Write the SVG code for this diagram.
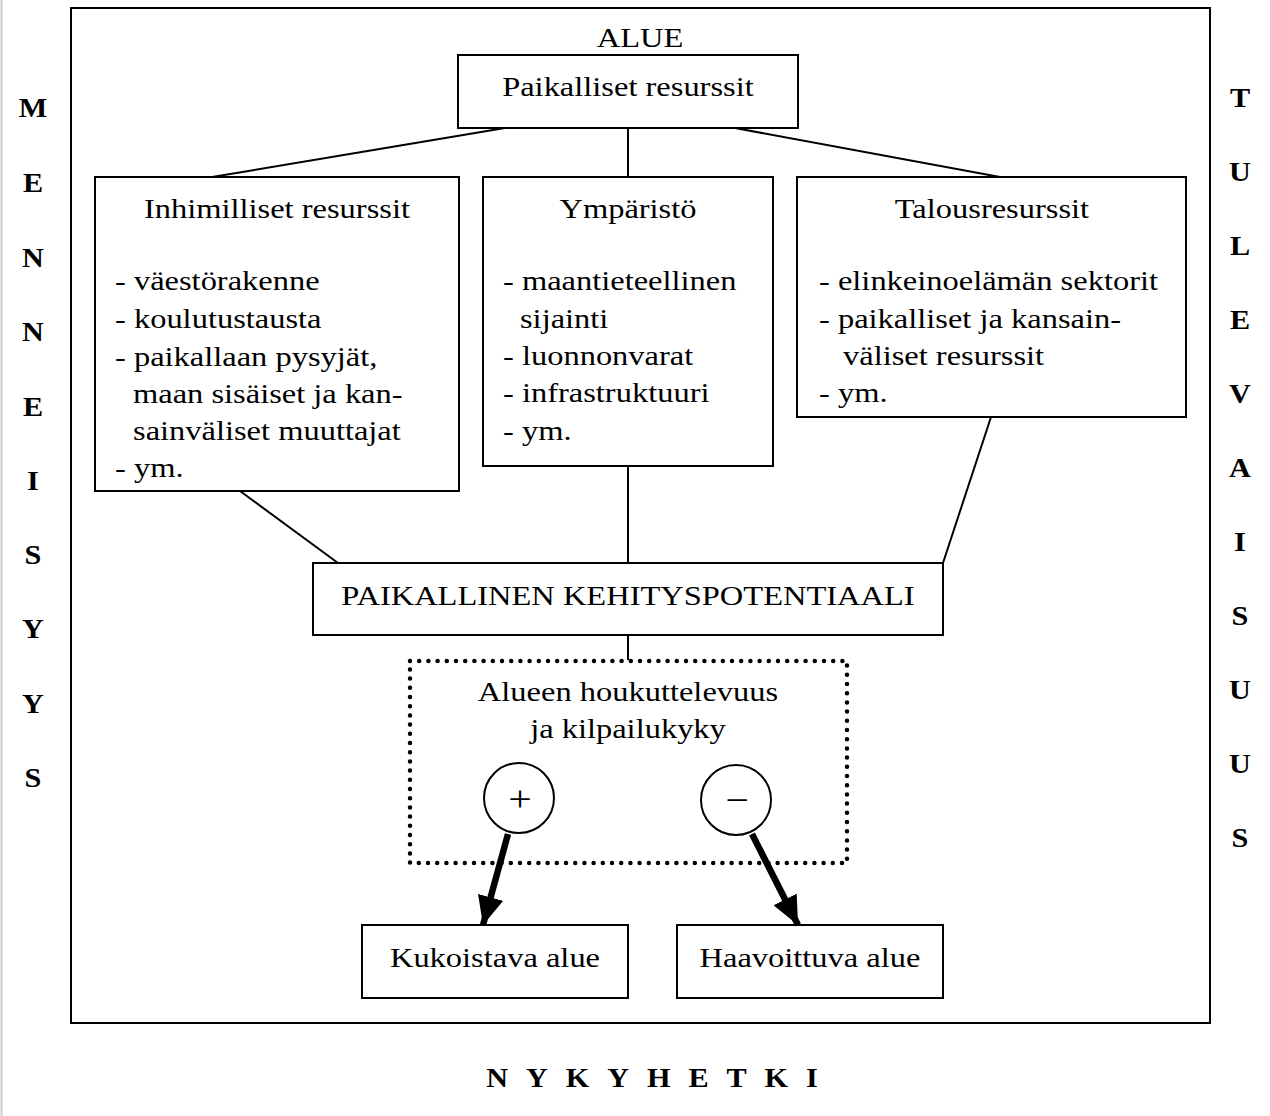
<svg xmlns="http://www.w3.org/2000/svg" width="1270" height="1116" viewBox="0 0 1270 1116">
<style>
.box{fill:#fff;stroke:#000;stroke-width:2}
.t{font-family:"Liberation Serif","Times New Roman",serif;font-size:28px;fill:#000;transform-box:fill-box;transform:scaleX(1.16);transform-origin:0 50%}
.c{text-anchor:middle;transform-origin:50% 50%}
.b{font-family:"Liberation Serif","Times New Roman",serif;font-size:27px;font-weight:bold;fill:#000;text-anchor:middle;transform-box:fill-box;transform:scaleX(1.12);transform-origin:50% 50%}
.ln{stroke:#000;stroke-width:2;fill:none}
.thick{stroke:#000;stroke-width:6.5;fill:none}
</style>
<defs>
<marker id="ah" viewBox="0 0 10 10" refX="10" refY="5" markerWidth="4.4" markerHeight="4" markerUnits="strokeWidth" orient="auto" preserveAspectRatio="none">
<path d="M0,0 L10,5 L0,10 z" fill="#000"/>
</marker>
</defs>
<rect width="1270" height="1116" fill="#fff"/>
<line x1="1.5" y1="0" x2="1.5" y2="1116" stroke="#ccc" stroke-width="2"/>
<g id="frame">
<rect x="71" y="8" width="1139" height="1015" class="box"/>
<text x="640" y="47" class="t c">ALUE</text>
</g>
<g id="paikalliset-resurssit">
<rect x="458" y="55" width="340" height="73" class="box"/>
<text x="628" y="96" class="t c">Paikalliset resurssit</text>
</g>
<g id="inhimilliset">
<rect x="95" y="177" width="364" height="314" class="box"/>
<text x="277" y="218" class="t c">Inhimilliset resurssit</text>
<text x="115" y="290" class="t">- väestörakenne</text>
<text x="115" y="328" class="t">- koulutustausta</text>
<text x="115" y="366" class="t">- paikallaan pysyjät,</text>
<text x="133" y="403" class="t">maan sisäiset ja kan-</text>
<text x="133" y="440" class="t">sainväliset muuttajat</text>
<text x="115" y="477" class="t">- ym.</text>
</g>
<g id="ymparisto">
<rect x="483" y="177" width="290" height="289" class="box"/>
<text x="628" y="218" class="t c">Ympäristö</text>
<text x="503" y="290" class="t">- maantieteellinen</text>
<text x="520" y="328" class="t">sijainti</text>
<text x="503" y="365" class="t">- luonnonvarat</text>
<text x="503" y="402" class="t">- infrastruktuuri</text>
<text x="503" y="440" class="t">- ym.</text>
</g>
<g id="talousresurssit">
<rect x="797" y="177" width="389" height="240" class="box"/>
<text x="992" y="218" class="t c">Talousresurssit</text>
<text x="819" y="290" class="t">- elinkeinoelämän sektorit</text>
<text x="819" y="328" class="t">- paikalliset ja kansain-</text>
<text x="843" y="365" class="t">väliset resurssit</text>
<text x="819" y="402" class="t">- ym.</text>
</g>
<g id="kehityspotentiaali">
<rect x="313" y="563" width="630" height="72" class="box"/>
<text x="628" y="605" class="t c">PAIKALLINEN KEHITYSPOTENTIAALI</text>
</g>
<g id="houkuttelevuus">
<rect x="410" y="661" width="437" height="202" fill="none" stroke="#000" stroke-width="4.5" stroke-linecap="round" stroke-dasharray="0 9.2"/>
<text x="628" y="701" class="t c">Alueen houkuttelevuus</text>
<text x="628" y="738" class="t c">ja kilpailukyky</text>
</g>
<g id="plus">
<circle cx="519" cy="798" r="35" class="box"/>
<text x="520" y="811" class="t c" style="font-size:36px">+</text>
</g>
<g id="minus">
<circle cx="736" cy="800" r="35" class="box"/>
<text x="737" y="812" class="t c" style="font-size:36px">−</text>
</g>
<g id="kukoistava">
<rect x="362" y="925" width="266" height="73" class="box"/>
<text x="495" y="967" class="t c">Kukoistava alue</text>
</g>
<g id="haavoittuva">
<rect x="677" y="925" width="266" height="73" class="box"/>
<text x="810" y="967" class="t c">Haavoittuva alue</text>
</g>
<g id="connectors">
<line x1="505" y1="128" x2="212" y2="177" class="ln"/>
<line x1="628" y1="128" x2="628" y2="177" class="ln"/>
<line x1="735" y1="128" x2="1000" y2="177" class="ln"/>
<line x1="240" y1="491" x2="338" y2="563" class="ln"/>
<line x1="628" y1="466" x2="628" y2="563" class="ln"/>
<line x1="991" y1="417" x2="943" y2="563" class="ln"/>
<line x1="628" y1="635" x2="628" y2="660" class="ln"/>
<line x1="508" y1="834" x2="483" y2="925" class="thick" marker-end="url(#ah)"/>
<line x1="752" y1="834" x2="798" y2="925" class="thick" marker-end="url(#ah)"/>
</g>
<g id="menneisyys">
<text x="33" y="117" class="b">M</text>
<text x="33" y="192" class="b">E</text>
<text x="33" y="267" class="b">N</text>
<text x="33" y="341" class="b">N</text>
<text x="33" y="416" class="b">E</text>
<text x="33" y="490" class="b">I</text>
<text x="33" y="564" class="b">S</text>
<text x="33" y="638" class="b">Y</text>
<text x="33" y="713" class="b">Y</text>
<text x="33" y="787" class="b">S</text>
</g>
<g id="tulevaisuus">
<text x="1240" y="107" class="b">T</text>
<text x="1240" y="181" class="b">U</text>
<text x="1240" y="255" class="b">L</text>
<text x="1240" y="329" class="b">E</text>
<text x="1240" y="403" class="b">V</text>
<text x="1240" y="477" class="b">A</text>
<text x="1240" y="551" class="b">I</text>
<text x="1240" y="625" class="b">S</text>
<text x="1240" y="699" class="b">U</text>
<text x="1240" y="773" class="b">U</text>
<text x="1240" y="847" class="b">S</text>
</g>
<g id="nykyhetki">
<text x="661" y="1087" class="b" letter-spacing="16">NYKYHETKI</text>
</g>
</svg>
